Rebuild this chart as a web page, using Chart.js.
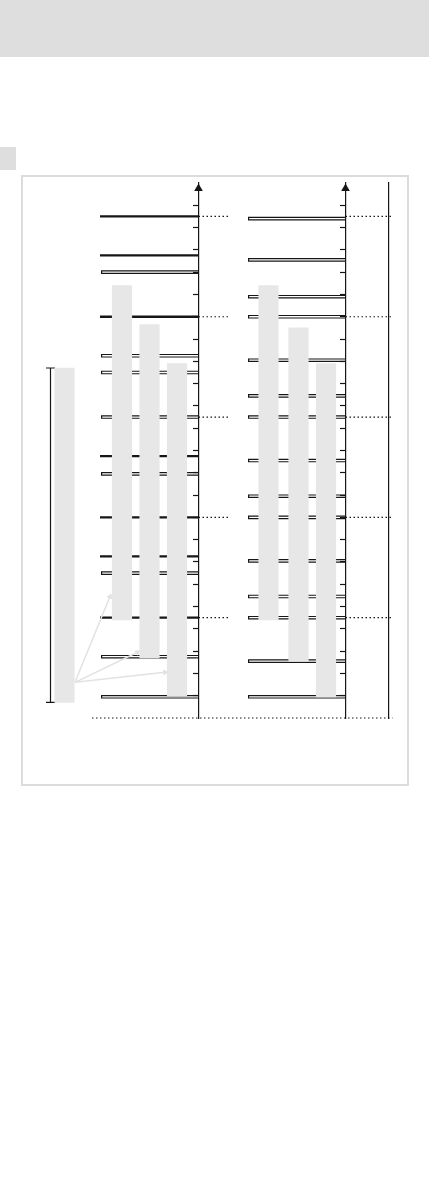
<!DOCTYPE html>
<html>
<head>
<meta charset="utf-8">
<script src="https://cdn.jsdelivr.net/npm/chart.js@4/dist/chart.umd.min.js"></script>
<style>
    html, body { margin: 0; padding: 0; background: #fff; }
    body { width: 429px; height: 1191px; position: relative; overflow: hidden; }
    .band { position: absolute; left: 0; top: 0; width: 429px; height: 57px; background: #dedede; }
    .tab { position: absolute; left: 0; top: 147px; width: 16px; height: 23px; background: #dedede; }
    .frame { position: absolute; left: 21px; top: 175px; width: 388px; height: 611px; box-sizing: border-box; border: 2px solid #dcdcdc; }
    #levels { position: absolute; left: 0; top: 170px; }
</style>
</head>
<body>
<div class="band"></div>
<div class="tab"></div>
<div class="frame"></div>
<canvas id="levels" width="429" height="560"></canvas>
<script>
// levels in axis units (one tick = 1 unit)
const dottedLevels = [4.5, 9, 13.5, 18, 22.5];
const leftSolid = [22.5, 20.75, 18, 11.75, 9, 7.25, 4.5];
const leftHollow = [20, 16.25, 15.5, 13.5, 10.95, 6.5, 2.75, 0.95];
const rightHollow = [22.4, 20.55, 18.9, 18, 16.05, 14.45, 13.5, 11.55, 9.95, 9, 7.05, 5.45, 4.5, 2.55, 0.95];

// gray ranges [low, high]
const leftRanges = [[4.4, 19.4], [2.7, 17.65], [1.0, 15.9]];
const rightRanges = [[4.4, 19.4], [2.55, 17.5], [0.95, 15.9]];
const totalRange = [0.7, 15.7];

// pointer arrows: start level and target levels
const arrowOrigin = 1.6;
const arrowTargets = [5.45, 2.95, 2.05];

const yMin = 0;
const yMax = 24;
const yStep = 1;

// layout (x in canvas pixels)
const AXIS_L = 198.5;
const AXIS_R = 345.5;
const AXIS_F = 388.5;
const LEFT_LINE_X = 100;
const RIGHT_LINE_X = 248;
const leftBarX = [122, 149.5, 177];
const rightBarX = [268.5, 298.5, 326];
const TOTAL_X = 64.5;
const BRACKET_X = 50.5;

const INK = '#161616';

function segs(levels, x0, x1) {
    const pts = [];
    levels.forEach(v => {
        pts.push({x: x0, y: v}, {x: x1, y: v}, {x: x1, y: null});
    });
    return pts;
}

function lineSet(data, color, width, order, dash) {
    return {
        type: 'line',
        data: data,
        borderColor: color,
        borderWidth: width,
        borderDash: dash || [],
        pointRadius: 0,
        tension: 0,
        spanGaps: false,
        clip: false,
        order: order
    };
}

const hollowBlack = segs(leftHollow, LEFT_LINE_X + 1, AXIS_L).concat(segs(rightHollow, RIGHT_LINE_X, AXIS_R));
const hollowWhite = segs(leftHollow, LEFT_LINE_X + 2.2, AXIS_L).concat(segs(rightHollow, RIGHT_LINE_X + 1.2, AXIS_R));
const solid = segs(leftSolid, LEFT_LINE_X, AXIS_L);

const dotted = segs(dottedLevels, AXIS_L, AXIS_L + 30)
    .concat(segs(dottedLevels, AXIS_R, AXIS_F + 4))
    .concat(segs([yMin], 92, AXIS_F + 4));

const bars = leftRanges.map((r, i) => ({x: leftBarX[i], y: r}))
    .concat(rightRanges.map((r, i) => ({x: rightBarX[i], y: r})))
    .concat([{x: TOTAL_X, y: totalRange}]);

const bracket = [
    {x: BRACKET_X - 4.5, y: totalRange[1]}, {x: BRACKET_X + 4.5, y: totalRange[1]}, {x: BRACKET_X, y: null},
    {x: BRACKET_X, y: totalRange[1]}, {x: BRACKET_X, y: totalRange[0]}, {x: BRACKET_X, y: null},
    {x: BRACKET_X - 4.5, y: totalRange[0]}, {x: BRACKET_X + 4.5, y: totalRange[0]}
];

const arrows = [];
arrowTargets.forEach((t, i) => {
    arrows.push({x: TOTAL_X + 10.5, y: arrowOrigin}, {x: leftBarX[i] - 12, y: t, tip: true}, {x: 0, y: null});
});

const axisHeads = [{x: AXIS_L, y: yMax - 0.25}, {x: AXIS_R, y: yMax - 0.25}];

function axisOpts(pos, withTicks) {
    return {
        type: 'linear',
        axis: 'y',
        position: {x: pos},
        min: yMin,
        max: yMax,
        ticks: { stepSize: yStep, display: false, autoSkip: false },
        grid: {
            drawOnChartArea: false,
            drawTicks: withTicks,
            tickLength: 5,
            tickWidth: 1.2,
            color: 'rgba(0,0,0,0)',
            tickColor: function(ctx) {
                if (!ctx.tick || ctx.tick.value <= yMin || ctx.tick.value >= yMax) return 'rgba(0,0,0,0)';
                return INK;
            },
            z: 1
        },
        border: { display: true, color: INK, width: 1.2, z: 1 }
    };
}

const ctx = document.getElementById('levels').getContext('2d');

new Chart(ctx, {
    type: 'line',
    data: {
        datasets: [
            {
                type: 'bar',
                data: bars,
                backgroundColor: '#e7e7e7',
                borderWidth: 0,
                barThickness: 19.5,
                grouped: false,
                clip: false,
                order: 0
            },
            lineSet(hollowWhite, '#ffffff', 1.3, 1),
            lineSet(hollowBlack, INK, 3.6, 2),
            lineSet(solid, INK, 2.3, 2),
            lineSet(dotted, INK, 1.2, 3, [1.5, 2.5]),
            lineSet(bracket, INK, 1.2, 3),
            Object.assign(lineSet(arrows, '#e2e2e2', 1.5, -1), {
                pointRadius: c => (c.raw && c.raw.tip ? 3.5 : 0),
                pointStyle: 'triangle',
                pointBackgroundColor: '#e2e2e2',
                pointBorderWidth: 0,
                pointRotation: function(c) {
                    const i = c.dataIndex;
                    const d = c.dataset.data;
                    if (!d[i] || !d[i].tip) return 0;
                    const xs = c.chart.scales.x, ys = c.chart.scales.y;
                    const dx = xs.getPixelForValue(d[i].x) - xs.getPixelForValue(d[i - 1].x);
                    const dy = ys.getPixelForValue(d[i].y) - ys.getPixelForValue(d[i - 1].y);
                    return Math.atan2(dx, -dy) * 180 / Math.PI;
                }
            }),
            {
                type: 'line',
                data: axisHeads,
                showLine: false,
                pointStyle: 'triangle',
                pointRadius: 5,
                pointBackgroundColor: INK,
                pointBorderWidth: 0,
                clip: false,
                order: -2
            }
        ]
    },
    options: {
        responsive: false,
        animation: false,
        events: [],
        layout: { autoPadding: false, padding: { top: 13, bottom: 12, left: 0, right: 0 } },
        plugins: {
            legend: { display: false },
            tooltip: { enabled: false }
        },
        scales: {
            x: { type: 'linear', min: 0, max: 429, display: false, offset: false },
            y: axisOpts(AXIS_L, true),
            yR: axisOpts(AXIS_R, true),
            yF: axisOpts(AXIS_F, false)
        }
    }
});
</script>
</body>
</html>
